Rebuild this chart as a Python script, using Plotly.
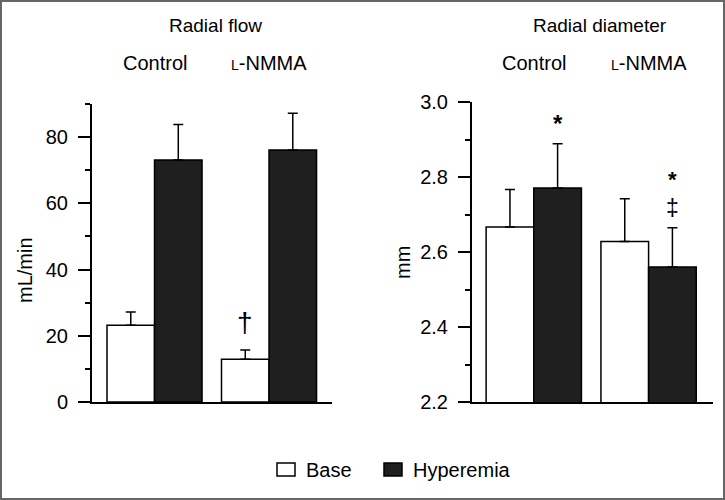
import plotly.graph_objects as go

# ---------------- data ----------------
groups = ["Control", "L-NMMA"]
group_labels = ["Control", "<span style='font-size:14px'>L</span>-NMMA"]
series_names = ["Base", "Hyperemia"]

flow_base = [23.2, 12.9]
flow_base_err = [4.0, 2.8]
flow_hyp = [73.1, 76.1]
flow_hyp_err = [10.7, 11.1]

diam_base = [2.667, 2.628]
diam_base_err = [0.100, 0.114]
diam_hyp = [2.771, 2.560]
diam_hyp_err = [0.118, 0.105]

flow_ticks = [0, 20, 40, 60, 80]
diam_ticks = [2.2, 2.4, 2.6, 2.8, 3.0]

# ---------------- layout helpers ----------------
W, H = 725, 500
FONT = "Liberation Sans, Arial, Helvetica, sans-serif"
FS = 20
BARGAP = 0.17
OFF = (1 - BARGAP) / 4  # center offset of each bar in a group
DARK = "#1f1f1f"
FILLS = ["white", DARK]


def fx(p):
    return p / W


def fy(p):
    return 1 - p / H


fig = go.Figure()

def add_bars(base, base_err, hyp, hyp_err, xa, ya):
    for name, fill, vals, errs in ((series_names[0], FILLS[0], base, base_err),
                                   (series_names[1], FILLS[1], hyp, hyp_err)):
        fig.add_trace(go.Bar(
            x=groups, y=vals, name=name, xaxis=xa, yaxis=ya,
            marker=dict(color=fill, line=dict(color="black", width=1.5)),
            error_y=dict(type="data", array=errs, arrayminus=[0] * len(vals),
                         symmetric=False, color="black", thickness=1.5, width=5),
            showlegend=False))

add_bars(flow_base, flow_base_err, flow_hyp, flow_hyp_err, "x", "y")
add_bars(diam_base, diam_base_err, diam_hyp, diam_hyp_err, "x2", "y2")

yax_common = dict(showline=True, linewidth=2, linecolor="black", ticks="outside",
                  ticklen=12, tickwidth=2, tickcolor="black", showgrid=False,
                  zeroline=False, ticklabelstandoff=6,
                  tickfont=dict(size=FS, color="black", family=FONT))
xax_common = dict(showline=True, linewidth=2, linecolor="black", ticks="",
                  showticklabels=False, showgrid=False, zeroline=False, fixedrange=True)

fig.update_layout(
    width=W, height=H,
    margin=dict(l=0, r=0, t=0, b=0, autoexpand=False),
    paper_bgcolor="white", plot_bgcolor="white",
    font=dict(family=FONT, size=FS, color="black"),
    barmode="group", bargap=BARGAP, bargroupgap=0,
    xaxis=dict(domain=[fx(92), fx(332)], range=[-0.546, 1.55], anchor="y", **xax_common),
    yaxis=dict(domain=[fy(402), fy(104)], range=[0, 90], anchor="x",
               tickvals=flow_ticks, ticktext=[str(v) for v in flow_ticks],
               minor=dict(ticks="outside", ticklen=5, tickwidth=1.5, tickcolor="black", dtick=10, tick0=0),
               **yax_common),
    xaxis2=dict(domain=[fx(472), fx(713)], range=[-0.538, 1.561], anchor="y2", **xax_common),
    yaxis2=dict(domain=[fy(402), fy(102)], range=[2.2, 3.0], anchor="x2",
                tickvals=diam_ticks, ticktext=[f"{v:.1f}" for v in diam_ticks],
                minor=dict(ticks="outside", ticklen=5, tickwidth=1.5, tickcolor="black", dtick=0.1, tick0=2.2),
                **yax_common),
    showlegend=False,
)

ann = []
# panel titles
ann.append(dict(text="Radial flow", xref="paper", yref="paper", x=fx(215), y=fy(25),
                showarrow=False, xanchor="center", yanchor="middle", font=dict(size=19)))
ann.append(dict(text="Radial diameter", xref="paper", yref="paper", x=fx(600), y=fy(25),
                showarrow=False, xanchor="center", yanchor="middle", font=dict(size=19)))
# group labels
for i, lab in enumerate(group_labels):
    ann.append(dict(text=lab, xref="x", yref="paper", x=i, y=fy(63), showarrow=False,
                    xanchor="center", yanchor="middle"))
    ann.append(dict(text=lab, xref="x2", yref="paper", x=i, y=fy(63), showarrow=False,
                    xanchor="center", yanchor="middle"))
# y-axis titles
ann.append(dict(text="mL/min", xref="paper", yref="paper", x=fx(25), y=fy(270), textangle=-90,
                showarrow=False, xanchor="center", yanchor="middle"))
ann.append(dict(text="mm", xref="paper", yref="paper", x=fx(403), y=fy(263), textangle=-90,
                showarrow=False, xanchor="center", yanchor="middle"))
# significance marks
ann.append(dict(text="\u2020", xref="x", yref="y", x=1 - OFF, y=flow_base[1] + flow_base_err[1],
                yshift=10, showarrow=False, xanchor="center", yanchor="bottom", font=dict(size=28)))
ann.append(dict(text="<b>*</b>", xref="x2", yref="y2", x=0 + OFF, y=diam_hyp[0] + diam_hyp_err[0],
                yshift=5, showarrow=False, xanchor="center", yanchor="bottom", font=dict(size=24)))
ann.append(dict(text="<b>*</b><br><span style='font-size:23px'>\u2021</span>",
                xref="x2", yref="y2", x=1 + OFF, y=diam_hyp[1] + diam_hyp_err[1],
                yshift=5, showarrow=False, xanchor="center", yanchor="bottom", font=dict(size=22)))

# legend (drawn manually to match the original key boxes)
legend_x = [277, 384]
shapes = []
for lx, name, fill in zip(legend_x, series_names, FILLS):
    shapes.append(dict(type="rect", xref="paper", yref="paper", x0=fx(lx), x1=fx(lx + 18),
                       y0=fy(476), y1=fy(463), fillcolor=fill, line=dict(color="black", width=1.5)))
    ann.append(dict(text=name, xref="paper", yref="paper", x=fx(lx + 27), y=fy(469.5),
                    showarrow=False, xanchor="left", yanchor="middle"))

# outer frame
shapes.append(dict(type="rect", xref="paper", yref="paper", x0=fx(1), y0=fy(499), x1=fx(724), y1=fy(1),
                   line=dict(color="#666666", width=2), layer="above"))
fig.update_layout(annotations=ann, shapes=shapes)

fig.write_html("out.html", config={"displayModeBar": False},
               post_script="document.body.style.margin='0';")
